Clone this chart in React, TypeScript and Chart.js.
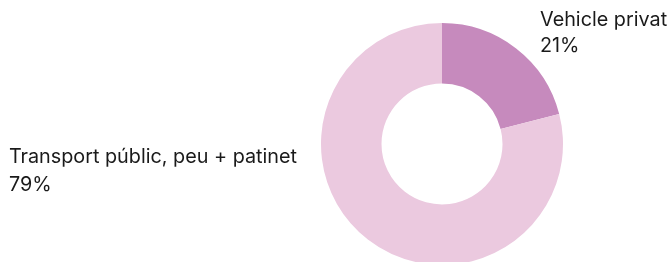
import React, { useEffect, useRef } from "react";
import { Chart, registerables } from "chart.js";

Chart.register(...registerables);

const categories = ["Vehicle privat", "Transport públic, peu + patinet"];
const values = [21, 79];
const colors = ["#c68abd", "#ebc9df"];

const labelPlugin = {
  id: "sideLabels",
  afterDraw(chart: any) {
    const { ctx, chartArea } = chart;
    const ds = chart.data.datasets[0];
    const total = ds.data.reduce((a: number, b: number) => a + b, 0);
    ctx.save();
    ctx.fillStyle = "#1a1a1a";
    ctx.font = "19.8px Inter, 'Noto Sans', sans-serif";
    ctx.textBaseline = "alphabetic";
    ctx.textAlign = "left";
    const cy = (chartArea.top + chartArea.bottom) / 2;
    chart.data.labels.forEach((lab: string, i: number) => {
      const pct = Math.round((ds.data[i] / total) * 100) + "%";
      if (i === 0) {
        const x = chartArea.right - 23;
        ctx.fillText(lab, x, chartArea.top + 3);
        ctx.fillText(pct, x, chartArea.top + 29);
      } else {
        const w = ctx.measureText(lab).width;
        const x = chartArea.left - 24 - w;
        ctx.fillText(lab, x, cy + 19);
        ctx.fillText(pct, x, cy + 47);
      }
    });
    ctx.restore();
  },
};

export default function App() {
  const ref = useRef<HTMLCanvasElement>(null);
  useEffect(() => {
    const chart = new Chart(ref.current!, {
      type: "doughnut",
      data: {
        labels: categories,
        datasets: [
          {
            data: values,
            backgroundColor: colors,
            borderWidth: 0,
          },
        ],
      },
      options: {
        responsive: false,
        animation: false,
        cutout: "50%",
        layout: { padding: { left: 321, right: 108, top: 23, bottom: 3 } },
        plugins: {
          legend: { display: false },
          tooltip: { enabled: false },
        },
      },
      plugins: [labelPlugin],
    });
    return () => chart.destroy();
  }, []);
  return (
    <div
      style={{
        position: "fixed",
        left: 0,
        top: 0,
        width: 671,
        height: 262,
        overflow: "hidden",
        background: "#fff",
      }}
    >
      <canvas ref={ref} width={671} height={268} />
    </div>
  );
}
